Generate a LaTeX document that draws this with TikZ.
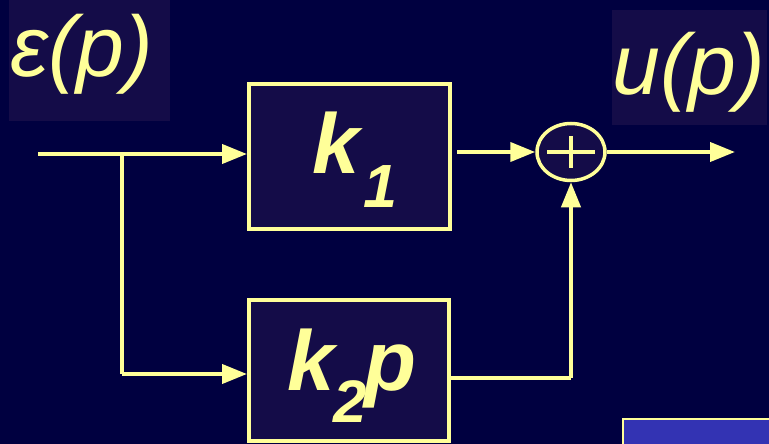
\documentclass[tikz,border=0pt]{standalone}
\usepackage{fontspec}
\setmainfont{Liberation Sans}
\usetikzlibrary{arrows.meta,shapes.geometric}
\definecolor{bg}{RGB}{0,0,64}
\definecolor{boxfill}{RGB}{20,12,72}
\definecolor{yel}{RGB}{255,255,153}
\definecolor{slideblue}{RGB}{51,51,179}
\tikzset{
  x=1pt, y=1pt,
  wire/.style={draw=yel, line width=4pt},
  arr/.style={wire, -{Triangle[length=25pt,width=19pt]}},
  blockbox/.style={draw=yel, line width=4pt, fill=boxfill, rectangle, inner sep=0pt, text=yel},
  labelbox/.style={fill=boxfill},
  sumnode/.style={ellipse, draw=yel, line width=3.5pt, fill=boxfill, minimum width=68pt, minimum height=57pt, inner sep=0pt},
  sigtext/.style={text=yel, inner sep=0pt, anchor=base, font=\fontsize{86}{86}\selectfont\itshape},
  gaintext/.style={text=yel, inner sep=0pt, anchor=base, font=\fontsize{85}{85}\selectfont\bfseries\itshape}
}
\begin{document}
\begin{tikzpicture}
\clip (0,0) rectangle (769,-444);
\fill[bg] (0,0) rectangle (769,-444);
% label backgrounds
\fill[labelbox] (9,0) rectangle (170,-121);
\fill[labelbox] (612,-10) rectangle (767,-125);
\node[sigtext] (eps) at (82,-77) {ε(p)};
\node[sigtext] (up) at (689,-95) {u(p)};
% blocks
\node[blockbox, minimum width=201pt, minimum height=145pt] (k1) at (349.5,-156.5) {};
\node[gaintext] (k1t) at (355,-173) {k\hspace{4pt}\raisebox{-34pt}{\fontsize{61}{61}\selectfont 1}};
\node[blockbox, minimum width=200pt, minimum height=141pt] (k2) at (349,-370.5) {};
\node[gaintext] (k2t) at (352,-390) {k\hspace{-1pt}\raisebox{-32pt}{\fontsize{60}{60}\selectfont 2}\hspace{-3pt}p};
% summing junction
\node[sumnode] (sum) at (571,-152) {};
\draw[wire] ([xshift=-24pt]sum.center) -- ([xshift=24pt]sum.center);
\draw[wire] ([yshift=-16pt]sum.center) -- ([yshift=16pt]sum.center);
% coordinates
\coordinate (in) at (38,-154);
\coordinate (br) at (122,-154);
\coordinate (brlow) at (122,-374);
\coordinate (out) at (735,-152);
\coordinate (j) at (571,-378);
% connectors
\draw[wire] (in) -- (br);
\draw[arr] (br) -- (br -| k1.west);
\draw[wire] (br) -- (brlow);
\draw[arr] (brlow) -- (brlow -| k2.west);
\draw[arr] ([xshift=5pt]k1.east |- sum) -- (sum.west);
\draw[arr] (sum.east) -- (out);
\draw[wire] (k2.east |- j) -- (j);
\draw[arr] (j) -- (sum.south);
% blue rectangle at bottom right
\draw[draw=yel, line width=1.5pt, fill=slideblue] (623,-419) rectangle (780,-460);
\end{tikzpicture}
\end{document}
